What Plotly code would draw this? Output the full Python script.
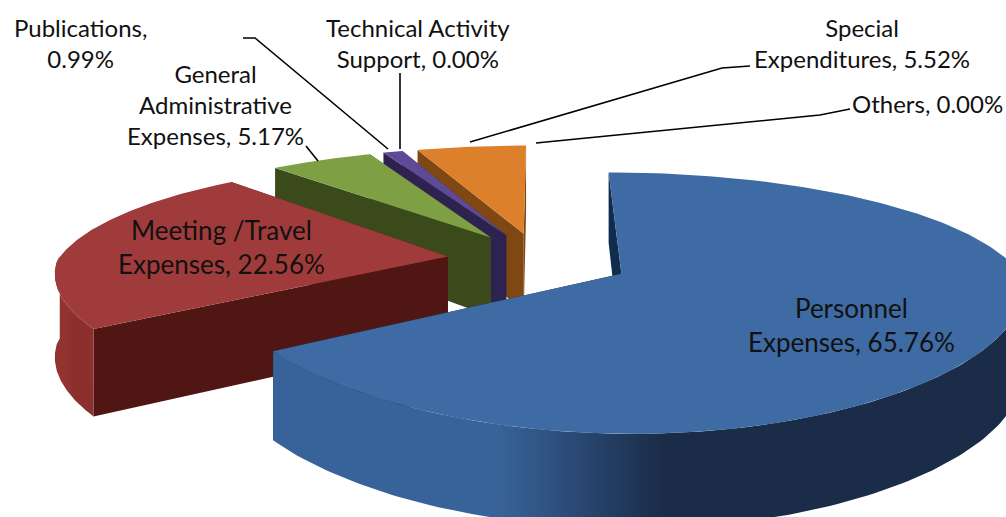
import numpy as np
import plotly.graph_objects as go

categories = ["Personnel Expenses", "Meeting /Travel Expenses", "General Administrative Expenses",
              "Publications", "Technical Activity Support", "Special Expenditures", "Others"]
values = [65.76, 22.56, 5.17, 0.99, 0.00, 5.52, 0.00]
top_colors = ["#3e6ba3", "#a03b3b", "#7f9f45", "#5f4a95", "#5f4a95", "#dd802c", "#dd802c"]
wall_colors = ["#122c4d", "#4f1614", "#3b4a1a", "#2e2350", "#2e2350", "#7f4712", "#7f4712"]
rim_light = ["#38639a", "#93332f", "#4a611f", "#3a2d63", "#3a2d63", "#94541a", "#94541a"]
rim_dark = ["#1a2c48", "#8c302d", "#3d5018", "#2e2350", "#2e2350", "#7f4712", "#7f4712"]
paint_order = [5, 3, 2, 1, 0]

label_text = [
    "Personnel<br>Expenses, {:.2f}%",
    "Meeting /Travel<br>Expenses, {:.2f}%",
    "General<br>Administrative<br>Expenses, {:.2f}%",
    "Publications,<br>{:.2f}%",
    "Technical Activity<br>Support, {:.2f}%",
    "Special<br>Expenditures, {:.2f}%",
    "Others, {:.2f}%",
]
label_pos = [(851, 325), (221, 247), (215, 104), (80, 43), (418, 43), (862, 43), (927, 103)]
label_size = [26, 26, 24, 24, 24, 24, 24]

CX, CY, RX, RY, DEPTH, EXPLODE = 539, 260, 390, 118, 82, 0.237
PERSP_BACK, PERSP_BACK_X, PERSP_FRONT_X = 0.22, 0.19, 0.12
W, H = 1006, 517


def project(u, v, z=0.0):
    u, v = np.asarray(u, float), np.asarray(v, float)
    sy = 1 / (1 + PERSP_BACK * v)
    sx = 1 / (1 + np.where(v > 0, PERSP_BACK_X, PERSP_FRONT_X) * v)
    return CX + RX * u * sx, CY - RY * v * sy + DEPTH * z * sx


def polygon(fig, x, y, name, color=None, grad=None):
    kw = dict(fillcolor=color) if grad is None else dict(fillgradient=grad)
    fig.add_trace(go.Scatter(x=x, y=y, mode="lines", fill="toself", line=dict(width=0),
                             name=name, hoverinfo="name", showlegend=False, **kw))


fig = go.Figure()
edges = np.cumsum([0] + values) * 3.6
for i in paint_order:
    a0, a1 = np.radians(edges[i]), np.radians(edges[i + 1])
    mid = (a0 + a1) / 2
    ox, oy = EXPLODE * np.sin(mid), EXPLODE * np.cos(mid)
    t = np.linspace(a0, a1, 200)
    u, v = ox + np.sin(t), oy + np.cos(t)
    for a in (a0, a1):
        uw = np.array([ox, ox + np.sin(a), ox + np.sin(a), ox])
        vw = np.array([oy, oy + np.cos(a), oy + np.cos(a), oy])
        xw, yw = project(uw, vw, np.array([0, 0, 1, 1]))
        polygon(fig, xw, yw, categories[i], color=wall_colors[i])
    front = np.cos(t) < 0
    if front.any():
        xa, ya = project(u[front], v[front], 0)
        xb, yb = project(u[front], v[front], 1)
        grad = dict(type="horizontal",
                    colorscale=[[0, rim_light[i]], [0.3, rim_light[i]], [0.52, rim_dark[i]], [1, rim_dark[i]]])
        polygon(fig, np.r_[xa, xb[::-1]], np.r_[ya, yb[::-1]], categories[i], grad=grad)
    xt, yt = project(np.r_[ox, u], np.r_[oy, v], 0)
    polygon(fig, xt, yt, categories[i], color=top_colors[i])

for i, (txt, (px, py)) in enumerate(zip(label_text, label_pos)):
    fig.add_annotation(x=px, y=py, text=txt.format(values[i]), showarrow=False, align="center",
                       xref="x", yref="y", font=dict(family="Lato", size=label_size[i], color="#111111"))

leaders = [
    "M 243 38 L 255 38 L 388 149",
    "M 400 73 L 400 149",
    "M 750 66 L 722 68 L 470 142",
    "M 850 109 L 820 115 L 536 143",
    "M 306 146 L 318 161",
]
for p in leaders:
    fig.add_shape(type="path", path=p, line=dict(color="#000000", width=1.6), xref="x", yref="y")

fig.update_xaxes(range=[0, W], visible=False, fixedrange=True)
fig.update_yaxes(range=[H, 0], visible=False, fixedrange=True)
fig.update_layout(width=W, height=H, margin=dict(l=0, r=0, t=0, b=0), paper_bgcolor="white",
                  plot_bgcolor="white", showlegend=False)
fig.write_html("out.html", config={"displayModeBar": False},
               post_script="document.body.style.margin='0';document.body.style.overflow='hidden';")
